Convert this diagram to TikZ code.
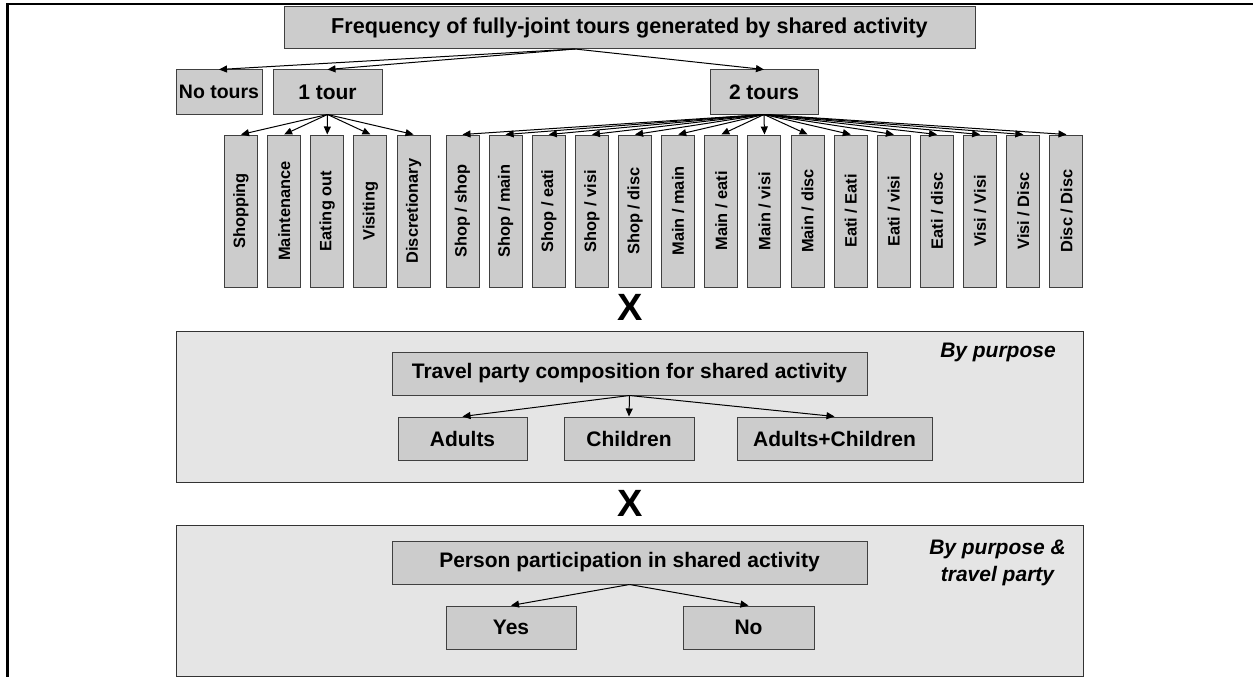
\documentclass[tikz,border=0pt]{standalone}
\usepackage{fontspec}
\setmainfont{Liberation Sans}
\usetikzlibrary{positioning,arrows.meta}
\tikzset{box/.style={draw=black!75, fill=black!20, line width=1pt, inner sep=0pt,
  minimum height=43pt, font=\bfseries\fontsize{21}{25}\selectfont},
vbox/.style={box, rotate=90, minimum width=152pt, minimum height=33pt,
  font=\bfseries\fontsize{16.4}{19}\selectfont},
panel/.style={draw=black!80, fill=black!10, line width=1pt,
  minimum width=907pt, minimum height=151pt},
note/.style={align=center, font=\bfseries\itshape\fontsize{21}{27}\selectfont},
times/.style={font=\bfseries\fontsize{38}{38}\selectfont}
}

\begin{document}
\begin{tikzpicture}[x=1pt, y=-1pt, node distance=43.14pt, on grid,
    >={Triangle[length=8pt,width=7pt]}, line width=1pt]
          \useasboundingbox (0,0) rectangle (1253,677);
          \draw[line width=2.7pt] (7.8,677) -- (7.8,4) -- (1253,4);

          % panels and the X between them
          \node[panel] (pan_a) at (629.5,406.5) {};
          \node[panel] (pan_b) at (629.5,600.5) {};
          \node[times] (x_1) at (630,307) {X};
          \node[times] (x_2) at (630,503) {X};

          \node[box, minimum width=691pt, minimum height=42pt,
                font=\bfseries\fontsize{21.6}{25}\selectfont] (freq) at (629.5,27.5)
               {Frequency of fully-joint tours generated by shared activity};
          \node[box, minimum width=86pt, minimum height=44pt, font=\bfseries\fontsize{19.5}{24}\selectfont]
               (none) at (219,92) {No tours};
          \node[box, minimum width=109pt, minimum height=44pt] (one) at (327.5,92) {1 tour};
          \node[box, minimum width=108pt, minimum height=44pt] (two) at (764,92) {2 tours};
          \coordinate (f_o) at ([xshift=-54.5pt]freq.south);

          \node[vbox]            (shop) at (241,211)    {Shopping};
          \node[vbox]            (main) [right=of shop] {Maintenance};
          \node[vbox]            (eati) [right=of main] {Eating out};
          \node[vbox]            (visi) [right=of eati] {Visiting};
          \node[vbox]            (disc) [right=of visi] {Discretionary};

          \node[vbox]            (ss) at (462.5,211)  {Shop / shop};
          \node[vbox]            (sm) [right=of ss]   {Shop / main};
          \node[vbox]            (se) [right=of sm]   {Shop / eati};
          \node[vbox]            (sv) [right=of se]   {Shop / visi};
          \node[vbox]            (sd) [right=of sv]   {Shop / disc};
          \node[vbox]            (mm) [right=of sd]   {Main / main};
          \node[vbox]            (me) [right=of mm]   {Main / eati};
          \node[vbox]            (mv) [right=of me]   {Main / visi};
          \node[vbox]            (md) [right=of mv]   {Main / disc};
          \node[vbox]            (ee) [right=of md]   {Eati / Eati};
          \node[vbox]            (ev) [right=of ee]   {Eati / visi};
          \node[vbox]            (ed) [right=of ev]   {Eati / disc};
          \node[vbox]            (vv) [right=of ed]   {Visi / Visi};
          \node[vbox]            (vd) [right=of vv]   {Visi / Disc};
          \node[vbox]            (dd) [right=of vd]   {Disc / Disc};

          % travel party
          \node[box, minimum width=475pt] (party) at (629.5,373.5)
               {Travel party composition for shared activity};
          \node[box, minimum width=129pt] (adult) at (462.5,438.5) {Adults};
          \node[box, minimum width=130pt] (child) at (629,438.5)   {Children};
          \node[box, minimum width=195pt] (adch)  at (834.5,438.5) {Adults+Children};
          \node[note] (by_p) at (998,352) {By purpose};

          % participation
          \node[box, minimum width=475pt] (part) at (629.5,562.5)
               {Person participation in shared activity};
          \node[box, minimum width=130pt] (yes) at (511,627.5)   {Yes};
          \node[box, minimum width=131pt] (no)  at (748.5,627.5) {No};
          \node[note] (by_pt) at (997.5,562.5) {By purpose \&\\travel party};

          % rotated boxes: their top side is the east anchor
          \path[->] (f_o) edge (none.north)
                          edge (one.north)
                          edge (two.north)
                    (one.south) edge (shop.east) edge (main.east) edge (eati.east)
                                edge (visi.east) edge (disc.east)
                    (two.south) edge (ss.east) edge (sm.east) edge (se.east)
                                edge (sv.east) edge (sd.east) edge (mm.east)
                                edge (me.east) edge (mv.east) edge (md.east)
                                edge (ee.east) edge (ev.east) edge (ed.east)
                                edge (vv.east) edge (vd.east) edge (dd.east)
                    (party.south) edge (adult.north) edge (child.north) edge (adch.north)
                    (part.south) edge (yes.north) edge (no.north);
        \end{tikzpicture}
\end{document}
